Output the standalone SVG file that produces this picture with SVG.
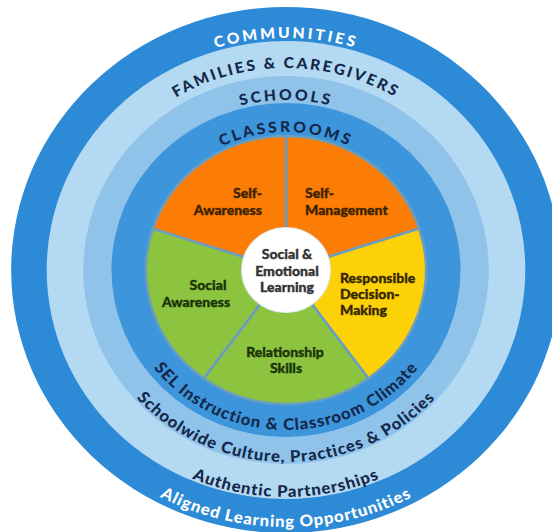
<svg xmlns="http://www.w3.org/2000/svg" width="552" height="532" viewBox="0 0 552 532">
<style>
.ring-t{font-family:Lato,"Liberation Sans",sans-serif;font-weight:900;font-size:15px;letter-spacing:2.6px;fill:#14284a}
.ring-b{font-family:Lato,"Liberation Sans",sans-serif;font-weight:900;font-size:16px;letter-spacing:0.9px;fill:#14284a}
.white{fill:#ffffff}
.lbl{font-family:Lato,"Liberation Sans",sans-serif;font-weight:900;font-size:14px;stroke-width:0.35px}
.brown{fill:#3f2300;stroke:#3f2300}
.dgreen{fill:#1a340a;stroke:#1a340a}
.dyellow{fill:#352800;stroke:#352800}
.gray{fill:#333333;stroke:#333333}
.wedge{stroke:#6a9ec0;stroke-width:2.5;stroke-linejoin:round}
</style>
<defs>
<path id="pComm" d="M-232,0 A232,232 0 0 1 232,0"/>
<path id="pFam" d="M-202,0 A202,202 0 0 1 202,0"/>
<path id="pSch" d="M-170,0 A170,170 0 0 1 170,0"/>
<path id="pCls" d="M-138,0 A138,138 0 0 1 138,0"/>
<path id="pSel" d="M-160,0 A160,160 0 0 0 160,0"/>
<path id="pSw" d="M-192,0 A192,192 0 0 0 192,0"/>
<path id="pAuth" d="M-227,0 A227,227 0 0 0 227,0"/>
<path id="pAlign" d="M-257,0 A257,257 0 0 0 257,0"/>
</defs>
<rect x="0" y="0" width="552" height="532" fill="#ffffff"/>
<g transform="translate(286,270) scale(1.045,1)">
  <g id="communities">
    <circle r="263" fill="#2d8ad6"/>
  </g>
  <g id="families">
    <circle r="229" fill="#b4d9f2"/>
  </g>
  <g id="schools">
    <circle r="194" fill="#8fc3ea"/>
  </g>
  <g id="classrooms">
    <circle r="167" fill="#3d95db"/>
  </g>
  <g id="wedge-self-management">
    <path class="wedge" d="M0,0 L0,-134 A134,134 0 0 1 127.44,-41.41 Z" fill="#fb7d06"/>
  </g>
  <g id="wedge-responsible-decision-making">
    <path class="wedge" d="M0,0 L127.44,-41.41 A134,134 0 0 1 78.77,108.41 Z" fill="#fdd108"/>
  </g>
  <g id="wedge-relationship-skills">
    <path class="wedge" d="M0,0 L78.77,108.41 A134,134 0 0 1 -78.77,108.41 Z" fill="#8dc43f"/>
  </g>
  <g id="wedge-social-awareness">
    <path class="wedge" d="M0,0 L-78.77,108.41 A134,134 0 0 1 -127.44,-41.41 Z" fill="#8dc43f"/>
  </g>
  <g id="wedge-self-awareness">
    <path class="wedge" d="M0,0 L-127.44,-41.41 A134,134 0 0 1 0,-134 Z" fill="#fb7d06"/>
  </g>
  <g id="center-circle">
    <circle r="42.5" fill="#ffffff" stroke="#dfeaf1" stroke-width="1"/>
  </g>
  <g id="ring-texts">
    <text class="ring-t white"><textPath href="#pComm" startOffset="50%" text-anchor="middle">COMMUNITIES</textPath></text>
    <text class="ring-t" style="letter-spacing:2.2px"><textPath href="#pFam" startOffset="50%" text-anchor="middle">FAMILIES &amp; CAREGIVERS</textPath></text>
    <text class="ring-t"><textPath href="#pSch" startOffset="50%" text-anchor="middle">SCHOOLS</textPath></text>
    <text class="ring-t"><textPath href="#pCls" startOffset="50%" text-anchor="middle">CLASSROOMS</textPath></text>
    <text class="ring-b"><textPath href="#pSel" startOffset="50%" text-anchor="middle">SEL Instruction &amp; Classroom Climate</textPath></text>
    <text class="ring-b"><textPath href="#pSw" startOffset="50%" text-anchor="middle">Schoolwide Culture, Practices &amp; Policies</textPath></text>
    <text class="ring-b"><textPath href="#pAuth" startOffset="50%" text-anchor="middle">Authentic Partnerships</textPath></text>
    <text class="ring-b white"><textPath href="#pAlign" startOffset="50%" text-anchor="middle">Aligned Learning Opportunities</textPath></text>
  </g>
</g>
<g id="labels">
  <text class="lbl brown" text-anchor="end" x="262" y="198">Self-</text>
  <text class="lbl brown" text-anchor="end" x="262" y="215">Awareness</text>
  <text class="lbl brown" x="305" y="198">Self-</text>
  <text class="lbl brown" x="305" y="215">Management</text>
  <text class="lbl dyellow" x="340" y="283">Responsible</text>
  <text class="lbl dyellow" x="340" y="299">Decision-</text>
  <text class="lbl dyellow" x="340" y="315">Making</text>
  <text class="lbl dgreen" text-anchor="middle" x="208" y="290">Social</text>
  <text class="lbl dgreen" text-anchor="middle" x="196" y="307">Awareness</text>
  <text class="lbl dgreen" text-anchor="middle" x="285" y="357">Relationship</text>
  <text class="lbl dgreen" text-anchor="middle" x="286" y="373">Skills</text>
  <text class="lbl gray" text-anchor="middle" x="287" y="259">Social &amp;</text>
  <text class="lbl gray" text-anchor="middle" x="287" y="276">Emotional</text>
  <text class="lbl gray" text-anchor="middle" x="287" y="292">Learning</text>
</g>
</svg>
